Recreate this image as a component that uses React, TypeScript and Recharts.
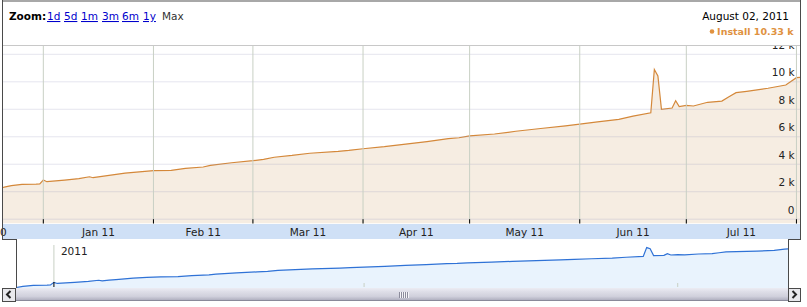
import React from 'react';
import { AreaChart, Area, XAxis, YAxis, ReferenceLine } from 'recharts';

// ---------- data ----------
const dates = [
  '2010-12-20', '2010-12-21', '2010-12-23', '2010-12-26', '2010-12-30', '2010-12-31',
  '2011-01-01', '2011-01-02', '2011-01-07', '2011-01-11', '2011-01-14', '2011-01-15',
  '2011-01-17', '2011-01-19', '2011-01-24', '2011-01-28', '2011-02-01', '2011-02-06',
  '2011-02-10', '2011-02-15', '2011-02-17', '2011-02-23', '2011-03-01', '2011-03-04',
  '2011-03-07', '2011-03-12', '2011-03-17', '2011-03-25', '2011-03-28', '2011-04-01',
  '2011-04-07', '2011-04-13', '2011-04-19', '2011-04-25', '2011-04-28', '2011-05-01',
  '2011-05-08', '2011-05-14', '2011-05-21', '2011-05-28', '2011-06-01', '2011-06-06',
  '2011-06-12', '2011-06-16', '2011-06-21', '2011-06-22', '2011-06-23', '2011-06-24',
  '2011-06-27', '2011-06-28', '2011-06-29', '2011-07-01', '2011-07-03', '2011-07-07',
  '2011-07-11', '2011-07-13', '2011-07-15', '2011-07-18', '2011-07-24', '2011-07-29',
  '2011-08-01', '2011-08-02',
];
const installs = [
  2300, 2330, 2440, 2540, 2550, 2570,
  2850, 2730, 2850, 2960, 3090, 3020,
  3100, 3170, 3360, 3440, 3530, 3560,
  3700, 3800, 3920, 4110, 4260, 4360,
  4510, 4640, 4800, 4940, 5010, 5130,
  5280, 5470, 5650, 5860, 5930, 6060,
  6200, 6400, 6600, 6800, 6920, 7080,
  7270, 7500, 7750, 10900, 10420, 8000,
  8090, 8620, 8190, 8290, 8240, 8510,
  8600, 8920, 9210, 9310, 9530, 9770,
  10300, 10330,
];
const monthStarts = [
  '2010-12-01', '2011-01-01', '2011-02-01', '2011-03-01', '2011-04-01',
  '2011-05-01', '2011-06-01', '2011-07-01', '2011-08-01',
];
const monthLabels = ['Dec 10', 'Jan 11', 'Feb 11', 'Mar 11', 'Apr 11', 'May 11', 'Jun 11', 'Jul 11'];
const yTicks = [0, 2000, 4000, 6000, 8000, 10000, 12000];
const yTickLabels = ['0', '2 k', '4 k', '6 k', '8 k', '10 k', '12 k'];
const yearStarts = ['2011-01-01'];
const yearLabels = ['2011'];
const quarterStarts = ['2011-04-01', '2011-07-01'];
const zoomLinks = ['1d', '5d', '1m', '3m', '6m', '1y'];
const zoomCurrent = 'Max';
const headerDate = 'August 02, 2011';
const seriesName = 'Install';
const lastValueLabel = '10.33 k';

// ---------- helpers ----------
const dayOf = (s: string) =>
  (Date.UTC(+s.slice(0, 4), +s.slice(5, 7) - 1, +s.slice(8, 10)) - Date.UTC(2011, 0, 1)) / 86400000;

const data = dates.map((d, i) => ({ day: dayOf(d), v: installs[i] }));
const monthDays = monthStarts.map(dayOf);
const labelDays = monthLabels.map((_, i) => (monthDays[i] + monthDays[i + 1]) / 2);
const yearDays = yearStarts.map(dayOf);
const quarterDays = quarterStarts.map(dayOf);
const selTicks = [...yearDays, ...quarterDays];

const MAIN_X: [number, number] = [-11.35, 213];
const SEL_X: [number, number] = [-11.0, 213];
const Y_MIN = -313;
const Y_MAX = 12680;
const SEL_Y_MIN = 2290;
const SEL_Y_MAX = 14600;

const FONT = '"DejaVu Sans", Verdana, sans-serif';
const ORANGE = '#d4883a';
const DARK = '#4a4a4a';

const abs = (s: React.CSSProperties): React.CSSProperties => ({ position: 'absolute', ...s });

function MainChart() {
  return (
    <AreaChart width={807} height={240} data={data} margin={{ top: 45, right: 7, bottom: 0, left: 3 }}>
      <XAxis
        dataKey="day"
        type="number"
        domain={MAIN_X}
        allowDataOverflow
        ticks={labelDays}
        interval={0}
        height={16.5}
        axisLine={false}
        tickLine={false}
        tickSize={0}
        tickMargin={0}
        tick={(p: any) => (
          <text x={p.x} y={p.y + 12} textAnchor="middle" fontSize={10.5} fontFamily={FONT} fill="#222">
            {monthLabels[p.index]}
          </text>
        )}
      />
      <YAxis type="number" domain={[Y_MIN, Y_MAX]} allowDataOverflow hide />
      <Area
        type="linear"
        dataKey="v"
        stroke={ORANGE}
        strokeWidth={1.2}
        fill="#f6ede2"
        fillOpacity={1}
        baseValue={Y_MIN}
        dot={false}
        activeDot={false}
        isAnimationActive={false}
      />
      {yTicks.map((t, i) => (
        <ReferenceLine
          key={'h' + t}
          y={t}
          stroke="#9a9ac0"
          strokeOpacity={0.25}
          label={(lp: any) => {
            const vb = lp.viewBox || {};
            return (
              <text
                x={(vb.x || 0) + (vb.width || 0) - 5.5}
                y={(vb.y || 0) - 5.5}
                textAnchor="end"
                fontSize={10.5}
                fontFamily={FONT}
                fill="#222"
              >
                {yTickLabels[i]}
              </text>
            );
          }}
        />
      ))}
      {monthDays.map((d) => (
        <ReferenceLine key={'v' + d} x={d} stroke="#c8d0c4" />
      ))}
      {monthDays.map((d) => (
        <ReferenceLine
          key={'t' + d}
          segment={[
            { x: d, y: Y_MIN },
            { x: d, y: 0 },
          ]}
          stroke="#000"
        />
      ))}
    </AreaChart>
  );
}

function renderSelTick(p: any) {
  const v = p.payload ? p.payload.value : undefined;
  const yi = yearDays.indexOf(v);
  const top = p.y - 1;
  if (yi >= 0) {
    return (
      <g>
        <line x1={p.x} x2={p.x} y1={top - 42} y2={top - 5} stroke="#c8d0c4" />
        <line x1={p.x} x2={p.x} y1={top - 5} y2={top} stroke="#000" />
        <text x={p.x + 7} y={top - 32} fontSize={10.5} fontFamily={FONT} fill="#222">
          {yearLabels[yi]}
        </text>
      </g>
    );
  }
  return <line x1={p.x} x2={p.x} y1={top - 4} y2={top} stroke="#c8d0c4" />;
}

function SelectorChart() {
  return (
    <AreaChart width={772} height={49} data={data} margin={{ top: 0, right: 0, bottom: 0, left: 0 }}>
      <XAxis
        dataKey="day"
        type="number"
        domain={SEL_X}
        allowDataOverflow
        ticks={selTicks}
        interval={0}
        height={1}
        axisLine={false}
        tickLine={false}
        tickSize={0}
        tickMargin={0}
        tick={renderSelTick}
      />
      <YAxis type="number" scale="log" domain={[SEL_Y_MIN, SEL_Y_MAX]} allowDataOverflow hide />
      <Area
        type="linear"
        dataKey="v"
        stroke="#2f72d6"
        strokeWidth={1.2}
        fill="#e9f3fd"
        fillOpacity={1}
        baseValue={SEL_Y_MIN}
        dot={false}
        activeDot={false}
        isAnimationActive={false}
      />
      {yearDays.map((d) => (
        <ReferenceLine key={'yg' + d} x={d} stroke="none" />
      ))}
    </AreaChart>
  );
}

const linkX = [47, 64, 81, 102, 122, 143];

export default function App() {
  return (
    <div style={abs({ left: 0, top: 0, width: 807, height: 307, background: '#fff', overflow: 'hidden', fontFamily: FONT })}>
      {/* x-axis band */}
      <div style={abs({ left: 3, top: 224, width: 797, height: 15, background: '#cfe0f6' })} />
      <div style={abs({ left: 0, top: 0 })}>
        <MainChart />
      </div>
      <div style={abs({ left: 16, top: 240 })}>
        <SelectorChart />
      </div>
      {/* header */}
      <div style={abs({ left: 3, top: 2, width: 797, height: 43, background: '#fff' })} />
      <div style={abs({ left: 3, top: 45, width: 797, height: 1, background: '#c8c8c8' })} />
      {/* frame */}
      <div style={abs({ left: 2, top: 0, width: 799, height: 2, background: '#a8a8a8' })} />
      <div style={abs({ left: 2, top: 0, width: 1, height: 240, background: DARK })} />
      <div style={abs({ left: 800, top: 0, width: 1, height: 240, background: DARK })} />
      <div style={abs({ left: 2, top: 239, width: 15, height: 1, background: DARK })} />
      <div style={abs({ left: 788, top: 239, width: 13, height: 1, background: DARK })} />
      <div style={abs({ left: 16, top: 239, width: 1, height: 50, background: DARK })} />
      <div style={abs({ left: 788, top: 239, width: 1, height: 50, background: DARK })} />
      {/* scrollbar */}
      <div
        style={abs({
          left: 16,
          top: 288,
          width: 772,
          height: 12,
          background: 'linear-gradient(to bottom, #ececf3 0%, #dedee8 30%, #d0d0dc 70%, #b0b0c0 100%)',
          borderBottom: '1px solid #8a8a9a',
        })}
      />
      <div
        style={abs({
          left: 399,
          top: 292,
          width: 10,
          height: 6,
          background: 'repeating-linear-gradient(to right, #8c8c9c 0px, #8c8c9c 1px, #f4f4f8 1px, #f4f4f8 2px)',
        })}
      />
      <div style={abs({ left: 2, top: 288, width: 12, height: 12, background: '#e8e8ec', border: '1px solid ' + DARK })} />
      <div style={abs({ left: 788, top: 288, width: 11, height: 12, background: '#e8e8ec', border: '1px solid ' + DARK })} />
      <svg width={807} height={307} style={abs({ left: 0, top: 0, pointerEvents: 'none' })}>
        <polyline points="10.5,291 7,294.5 10.5,298" fill="none" stroke="#222" strokeWidth={2} />
        <polyline points="792.5,291 796,294.5 792.5,298" fill="none" stroke="#222" strokeWidth={2} />
        <text x={9} y={20} fontSize={10.5} fontFamily={FONT} fontWeight="bold" fill="#000">
          Zoom:
        </text>
        {zoomLinks.map((z, i) => (
          <text
            key={z}
            x={linkX[i]}
            y={20}
            fontSize={10.5}
            fontFamily={FONT}
            fill="#0000cc"
            style={{ textDecoration: 'underline' }}
          >
            {z}
          </text>
        ))}
        <text x={162} y={20} fontSize={10.5} fontFamily={FONT} fill="#333">
          {zoomCurrent}
        </text>
        <text x={789} y={19.5} textAnchor="end" fontSize={10.5} fontFamily={FONT} fill="#000">
          {headerDate}
        </text>
        <circle cx={712} cy={31.5} r={2.3} fill="#e0923f" />
        <text x={793.5} y={35} textAnchor="end" fontSize={9.5} fontFamily={FONT} fontWeight="bold" fill="#e0923f">
          {seriesName + ' ' + lastValueLabel}
        </text>
      </svg>
    </div>
  );
}
